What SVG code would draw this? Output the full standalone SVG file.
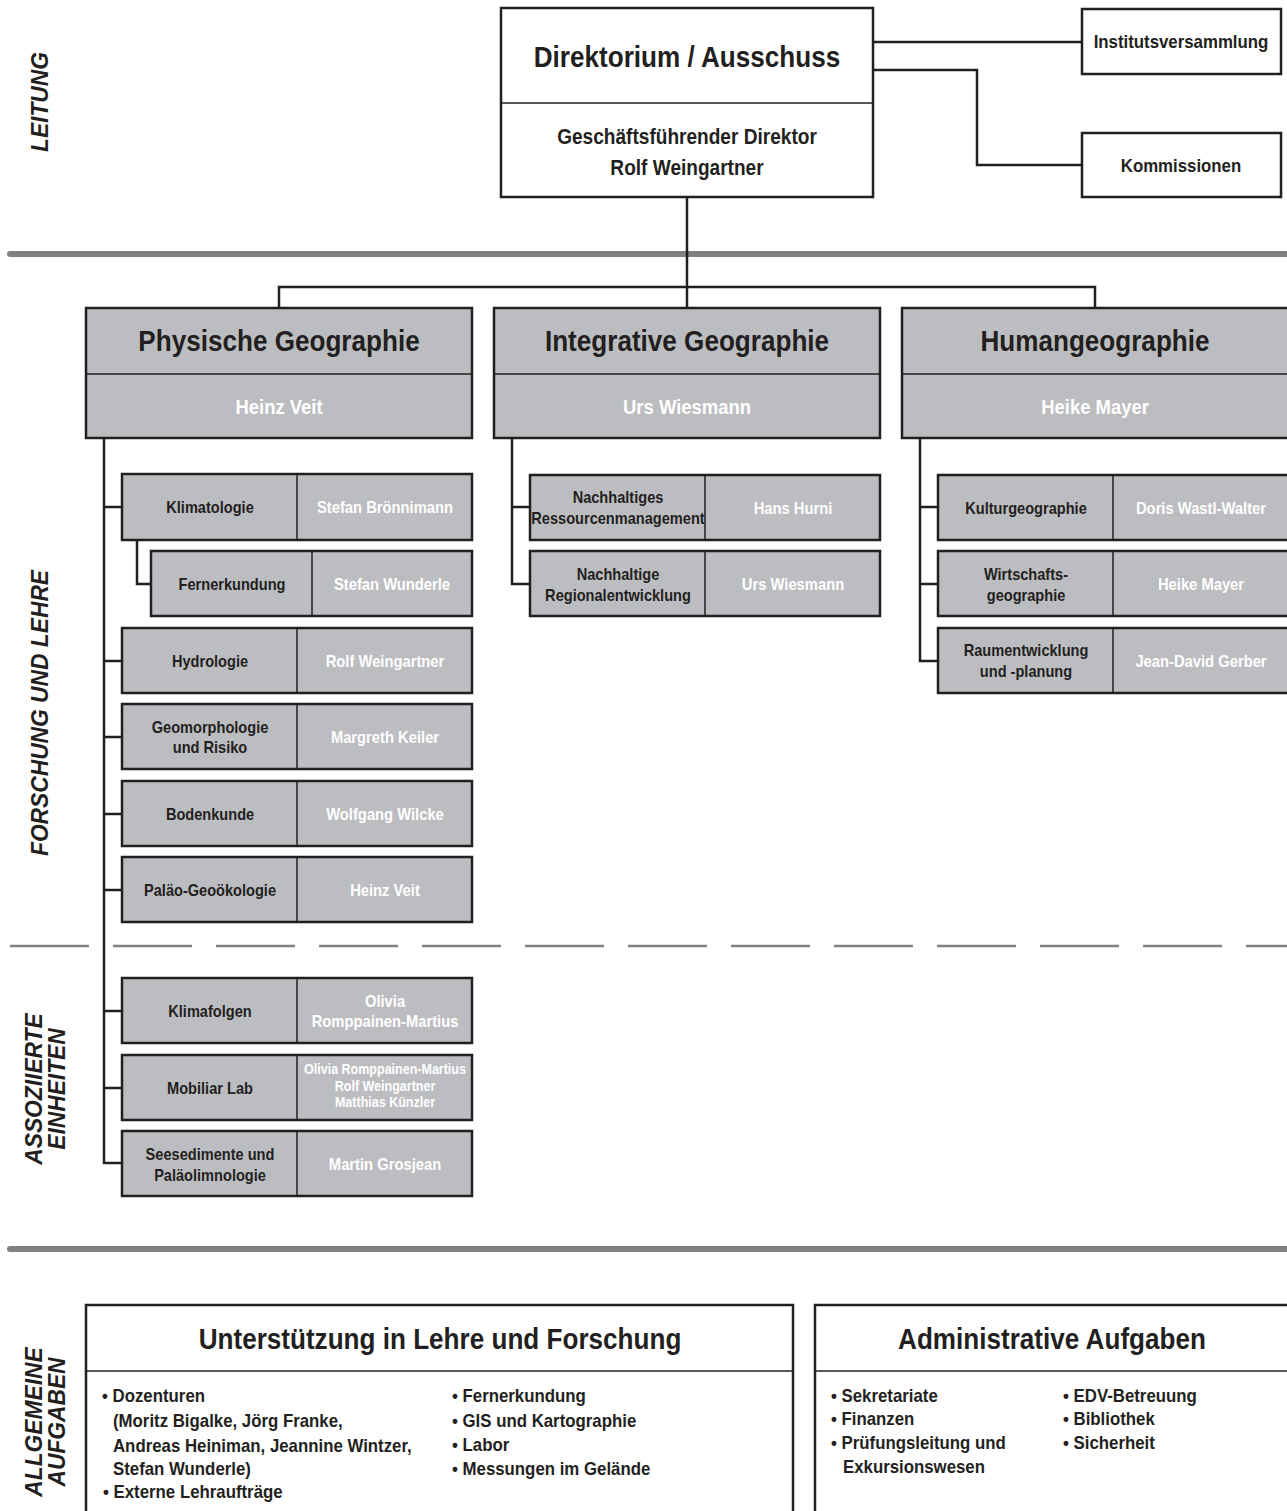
<svg xmlns="http://www.w3.org/2000/svg" width="1287" height="1511" viewBox="0 0 1287 1511">
<style>
text{font-family:"Liberation Sans",Arial,sans-serif;font-weight:bold;fill:#231f20}
.c{text-anchor:middle;transform-box:fill-box;transform-origin:center;transform:scaleX(0.9)}
.l{transform-box:fill-box;transform-origin:left center;transform:scaleX(0.9)}
.side{font-size:24px;font-style:italic;text-anchor:middle}
.big{font-size:29px}
.mid{font-size:21.2px}
.box2{font-size:18.7px}
.sm{font-size:16.2px}
.nm{font-size:16.4px;fill:#ffffff}
.nmb{font-size:20.5px;fill:#ffffff}
.nms{font-size:13.9px;fill:#ffffff}
.li{font-size:18.7px}
.wbox{fill:#ffffff;stroke:#231f20;stroke-width:2.5}
.gbox{fill:#bcbdc0;stroke:#231f20;stroke-width:2.5}
.div{stroke:#231f20;stroke-width:1.5;fill:none}
.con{stroke:#231f20;stroke-width:2.5;fill:none}
.sep{stroke:#808184;stroke-width:6;stroke-linecap:round}
.dash{stroke:#808184;stroke-width:2.5;stroke-dasharray:79 24}
</style>
<rect width="1287" height="1511" fill="#ffffff"/>

<g id="side-labels">
<text class="side" transform="translate(48,102) rotate(-90) scale(0.95,1)">LEITUNG</text>
<text class="side" transform="translate(48,713) rotate(-90) scale(0.95,1)">FORSCHUNG UND LEHRE</text>
<text class="side" transform="translate(42,1089) rotate(-90) scale(0.95,1)">ASSOZIIERTE</text>
<text class="side" transform="translate(65,1089) rotate(-90) scale(0.95,1)">EINHEITEN</text>
<text class="side" transform="translate(42,1422) rotate(-90) scale(0.95,1)">ALLGEMEINE</text>
<text class="side" transform="translate(65,1422) rotate(-90) scale(0.95,1)">AUFGABEN</text>
</g>

<g id="separators">
<line class="sep" x1="10" y1="254" x2="1290" y2="254"/>
<line class="dash" x1="10" y1="946" x2="1290" y2="946"/>
<line class="sep" x1="10" y1="1249" x2="1290" y2="1249"/>
</g>

<g id="connectors">
<polyline class="con" points="873,42 1082,42"/>
<polyline class="con" points="873,70 977,70 977,165 1082,165"/>
<polyline class="con" points="687,197 687,308"/>
<polyline class="con" points="279,308 279,287 1095,287 1095,308"/>
<polyline class="con" points="104,438 104,1163 122,1163"/>
<line class="con" x1="104" y1="507" x2="122" y2="507"/>
<polyline class="con" points="137,540 137,584 151,584"/>
<line class="con" x1="104" y1="661" x2="122" y2="661"/>
<line class="con" x1="104" y1="737" x2="122" y2="737"/>
<line class="con" x1="104" y1="814" x2="122" y2="814"/>
<line class="con" x1="104" y1="890" x2="122" y2="890"/>
<line class="con" x1="104" y1="1011" x2="122" y2="1011"/>
<line class="con" x1="104" y1="1088" x2="122" y2="1088"/>
<polyline class="con" points="512,438 512,584 530,584"/>
<line class="con" x1="512" y1="507" x2="530" y2="507"/>
<polyline class="con" points="920,438 920,661 938,661"/>
<line class="con" x1="920" y1="507" x2="938" y2="507"/>
<line class="con" x1="920" y1="584" x2="938" y2="584"/>
</g>

<g id="direktorium">
<rect class="wbox" x="501" y="8" width="372" height="189"/>
<line class="div" x1="501" y1="103" x2="873" y2="103"/>
<text class="big c" x="687" y="67">Direktorium / Ausschuss</text>
<text class="mid c" x="687" y="144">Geschäftsführender Direktor</text>
<text class="mid c" x="687" y="175">Rolf Weingartner</text>
</g>
<g id="institutsversammlung">
<rect class="wbox" x="1082" y="9" width="199" height="65"/>
<text class="box2 c" x="1181" y="48">Institutsversammlung</text>
</g>
<g id="kommissionen">
<rect class="wbox" x="1082" y="133" width="199" height="64"/>
<text class="box2 c" x="1181" y="172">Kommissionen</text>
</g>

<g id="physische-geographie">
<rect class="gbox" x="86" y="308" width="386" height="130"/>
<line class="div" x1="86" y1="374" x2="472" y2="374"/>
<text class="big c" x="279" y="351">Physische Geographie</text>
<text class="nmb c" x="279" y="414">Heinz Veit</text>
</g>
<g id="integrative-geographie">
<rect class="gbox" x="494" y="308" width="386" height="130"/>
<line class="div" x1="494" y1="374" x2="880" y2="374"/>
<text class="big c" x="687" y="351">Integrative Geographie</text>
<text class="nmb c" x="687" y="414">Urs Wiesmann</text>
</g>
<g id="humangeographie">
<rect class="gbox" x="902" y="308" width="388" height="130"/>
<line class="div" x1="902" y1="374" x2="1290" y2="374"/>
<text class="big c" x="1095" y="351">Humangeographie</text>
<text class="nmb c" x="1095" y="414">Heike Mayer</text>
</g>

<g id="klimatologie">
<rect class="gbox" x="122" y="474" width="350" height="66"/>
<line class="div" x1="297" y1="474" x2="297" y2="540"/>
<text class="sm c" x="210" y="513">Klimatologie</text>
<text class="nm c" x="385" y="513">Stefan Brönnimann</text>
</g>
<g id="fernerkundung">
<rect class="gbox" x="151" y="551" width="321" height="65"/>
<line class="div" x1="312" y1="551" x2="312" y2="616"/>
<text class="sm c" x="232" y="590">Fernerkundung</text>
<text class="nm c" x="392" y="590">Stefan Wunderle</text>
</g>
<g id="hydrologie">
<rect class="gbox" x="122" y="628" width="350" height="65"/>
<line class="div" x1="297" y1="628" x2="297" y2="693"/>
<text class="sm c" x="210" y="667">Hydrologie</text>
<text class="nm c" x="385" y="667">Rolf Weingartner</text>
</g>
<g id="geomorphologie">
<rect class="gbox" x="122" y="704" width="350" height="65"/>
<line class="div" x1="297" y1="704" x2="297" y2="769"/>
<text class="sm c" x="210" y="733">Geomorphologie</text>
<text class="sm c" x="210" y="753">und Risiko</text>
<text class="nm c" x="385" y="743">Margreth Keiler</text>
</g>
<g id="bodenkunde">
<rect class="gbox" x="122" y="781" width="350" height="65"/>
<line class="div" x1="297" y1="781" x2="297" y2="846"/>
<text class="sm c" x="210" y="820">Bodenkunde</text>
<text class="nm c" x="385" y="820">Wolfgang Wilcke</text>
</g>
<g id="palaeo-geooekologie">
<rect class="gbox" x="122" y="857" width="350" height="65"/>
<line class="div" x1="297" y1="857" x2="297" y2="922"/>
<text class="sm c" x="210" y="896">Paläo-Geoökologie</text>
<text class="nm c" x="385" y="896">Heinz Veit</text>
</g>
<g id="klimafolgen">
<rect class="gbox" x="122" y="978" width="350" height="65"/>
<line class="div" x1="297" y1="978" x2="297" y2="1043"/>
<text class="sm c" x="210" y="1017">Klimafolgen</text>
<text class="nm c" x="385" y="1007">Olivia</text>
<text class="nm c" x="385" y="1027">Romppainen-Martius</text>
</g>
<g id="mobiliar-lab">
<rect class="gbox" x="122" y="1055" width="350" height="65"/>
<line class="div" x1="297" y1="1055" x2="297" y2="1120"/>
<text class="sm c" x="210" y="1094">Mobiliar Lab</text>
<text class="nms c" x="385" y="1074">Olivia Romppainen-Martius</text>
<text class="nms c" x="385" y="1091">Rolf Weingartner</text>
<text class="nms c" x="385" y="1107">Matthias Künzler</text>
</g>
<g id="seesedimente">
<rect class="gbox" x="122" y="1131" width="350" height="65"/>
<line class="div" x1="297" y1="1131" x2="297" y2="1196"/>
<text class="sm c" x="210" y="1160">Seesedimente und</text>
<text class="sm c" x="210" y="1181">Paläolimnologie</text>
<text class="nm c" x="385" y="1170">Martin Grosjean</text>
</g>

<g id="ressourcenmanagement">
<rect class="gbox" x="530" y="475" width="350" height="65"/>
<line class="div" x1="705" y1="475" x2="705" y2="540"/>
<text class="sm c" x="618" y="503">Nachhaltiges</text>
<text class="sm c" x="618" y="524">Ressourcenmanagement</text>
<text class="nm c" x="793" y="514">Hans Hurni</text>
</g>
<g id="regionalentwicklung">
<rect class="gbox" x="530" y="551" width="350" height="65"/>
<line class="div" x1="705" y1="551" x2="705" y2="616"/>
<text class="sm c" x="618" y="580">Nachhaltige</text>
<text class="sm c" x="618" y="601">Regionalentwicklung</text>
<text class="nm c" x="793" y="590">Urs Wiesmann</text>
</g>

<g id="kulturgeographie">
<rect class="gbox" x="938" y="475" width="352" height="65"/>
<line class="div" x1="1113" y1="475" x2="1113" y2="540"/>
<text class="sm c" x="1026" y="514">Kulturgeographie</text>
<text class="nm c" x="1201" y="514">Doris Wastl-Walter</text>
</g>
<g id="wirtschaftsgeographie">
<rect class="gbox" x="938" y="551" width="352" height="65"/>
<line class="div" x1="1113" y1="551" x2="1113" y2="616"/>
<text class="sm c" x="1026" y="580">Wirtschafts-</text>
<text class="sm c" x="1026" y="601">geographie</text>
<text class="nm c" x="1201" y="590">Heike Mayer</text>
</g>
<g id="raumentwicklung">
<rect class="gbox" x="938" y="628" width="352" height="65"/>
<line class="div" x1="1113" y1="628" x2="1113" y2="693"/>
<text class="sm c" x="1026" y="656">Raumentwicklung</text>
<text class="sm c" x="1026" y="677">und -planung</text>
<text class="nm c" x="1201" y="667">Jean-David Gerber</text>
</g>

<g id="unterstuetzung">
<rect class="wbox" x="86" y="1305" width="707" height="215"/>
<line class="div" x1="86" y1="1371" x2="793" y2="1371"/>
<text class="big c" x="440" y="1349">Unterstützung in Lehre und Forschung</text>
<text class="li l" x="102" y="1402">• Dozenturen</text>
<text class="li l" x="113" y="1427">(Moritz Bigalke, Jörg Franke,</text>
<text class="li l" x="113" y="1452">Andreas Heiniman, Jeannine Wintzer,</text>
<text class="li l" x="113" y="1475">Stefan Wunderle)</text>
<text class="li l" x="103" y="1498">• Externe Lehraufträge</text>
<text class="li l" x="452" y="1402">• Fernerkundung</text>
<text class="li l" x="452" y="1427">• GIS und Kartographie</text>
<text class="li l" x="452" y="1451">• Labor</text>
<text class="li l" x="452" y="1475">• Messungen im Gelände</text>
</g>
<g id="administrative-aufgaben">
<rect class="wbox" x="815" y="1305" width="475" height="215"/>
<line class="div" x1="815" y1="1371" x2="1290" y2="1371"/>
<text class="big c" x="1052" y="1349">Administrative Aufgaben</text>
<text class="li l" x="831" y="1402">• Sekretariate</text>
<text class="li l" x="831" y="1425">• Finanzen</text>
<text class="li l" x="831" y="1449">• Prüfungsleitung und</text>
<text class="li l" x="843" y="1473">Exkursionswesen</text>
<text class="li l" x="1063" y="1402">• EDV-Betreuung</text>
<text class="li l" x="1063" y="1425">• Bibliothek</text>
<text class="li l" x="1063" y="1449">• Sicherheit</text>
</g>
</svg>
